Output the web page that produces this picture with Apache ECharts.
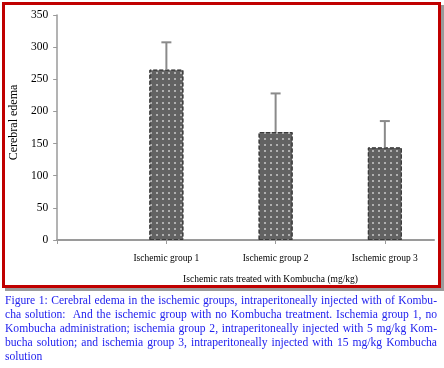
<!DOCTYPE html>
<html><head><meta charset="utf-8">
<script src="https://cdn.jsdelivr.net/npm/echarts@6/dist/echarts.min.js"></script>
<style>
html,body{margin:0;padding:0;background:#fff;width:444px;height:368px;overflow:hidden;}
#frame{position:absolute;left:2px;top:2px;width:433px;height:280px;border:3px solid #c00000;box-shadow:3px 3px 0 #9a9a9a;pointer-events:none;}
#chart{position:absolute;left:0;top:0;width:444px;height:292px;}
#cap{position:absolute;left:5px;top:294px;width:432px;font-family:"Liberation Serif",serif;font-size:11.6px;line-height:14px;color:#2222ee;}
#cap div{text-align:justify;text-align-last:justify;white-space:nowrap;}
#cap div.last{text-align-last:left;}
</style></head>
<body>
<div id="chart"></div>
<div id="frame"></div>
<div id="cap">
<div>Figure 1: Cerebral edema in the ischemic groups, intraperitoneally injected with of Kombu-</div>
<div>cha solution:&nbsp; And the ischemic group with no Kombucha treatment. Ischemia group 1, no</div>
<div>Kombucha administration; ischemia group 2, intraperitoneally injected with 5 mg/kg Kom-</div>
<div>bucha solution; and ischemia group 3, intraperitoneally injected with 15 mg/kg Kombucha</div>
<div class="last">solution</div>
</div>
<script>
var categories = ['Ischemic group 1', 'Ischemic group 2', 'Ischemic group 3'];
var edemaMean = [265, 168, 144];
var edemaUpper = [307.5, 228, 185];
var yTicks = [0, 50, 100, 150, 200, 250, 300, 350];

var chart = echarts.init(document.getElementById('chart'));
var barData = categories.map(function(c, i){ return [i, edemaMean[i]]; });
var errData = categories.map(function(c, i){ return [i, edemaMean[i], edemaUpper[i]]; });
var serif = '"Liberation Serif", "Times New Roman", serif';

chart.setOption({
  animation: false,
  grid: {left: 57, top: 15, width: 377, height: 225, containLabel: false},
  xAxis: {
    type: 'value', min: -1, max: 2.45, interval: 1,
    splitLine: {show: false},
    axisLine: {show: true, onZero: false, lineStyle: {color: '#9a9a9a', width: 2}},
    axisTick: {show: true, length: 4, lineStyle: {color: '#9a9a9a'}},
    axisLabel: {
      showMaxLabel: false, margin: 13, fontFamily: serif, fontSize: 9.5, color: '#000',
      formatter: function(v){ return v >= 0 && v < categories.length && v === Math.round(v) ? categories[v] : ''; }
    },
    name: 'Ischemic rats treated with Kombucha (mg/kg)',
    nameLocation: 'middle', nameGap: 34,
    nameTextStyle: {fontFamily: serif, fontSize: 9.5, color: '#000', padding: [0, 0, 0, 50]}
  },
  yAxis: {
    type: 'value', min: 0, max: 350, interval: 50,
    splitLine: {show: false},
    axisLine: {show: true, onZero: false, lineStyle: {color: '#9a9a9a', width: 1.5}},
    axisTick: {show: true, length: 4, lineStyle: {color: '#9a9a9a'}},
    axisLabel: {margin: 9, fontFamily: serif, fontSize: 11.5, color: '#000',
      formatter: function(v){ return yTicks.indexOf(v) >= 0 ? String(v) : ''; }},
    name: 'Cerebral edema', nameLocation: 'middle', nameGap: 29, nameRotate: 90,
    nameTextStyle: {fontFamily: serif, fontSize: 12, color: '#000', padding: [0, 0, 0, 10]}
  },
  series: [{
    type: 'bar', data: barData, barWidth: 34,
    itemStyle: {
      color: '#626262', borderColor: '#3a3a3a', borderWidth: 1, borderType: 'dashed',
      decal: {symbol: 'rect', symbolSize: 1, dashArrayX: [[1.4, 3.4]], dashArrayY: [1.4, 3.4], rotation: 0, color: '#b0b0b0'}
    }
  }, {
    type: 'custom', data: errData, encode: {x: 0, y: [1, 2]}, z: 3,
    renderItem: function(params, api){
      var lo = api.coord([api.value(0), api.value(1)]);
      var hi = api.coord([api.value(0), api.value(2)]);
      var style = {stroke: '#8a8a8a', lineWidth: 2};
      return {type: 'group', children: [
        {type: 'line', shape: {x1: lo[0], y1: lo[1], x2: hi[0], y2: hi[1]}, style: style},
        {type: 'line', shape: {x1: hi[0] - 5, y1: hi[1], x2: hi[0] + 5, y2: hi[1]}, style: style}
      ]};
    }
  }]
});
</script>
</body></html>
